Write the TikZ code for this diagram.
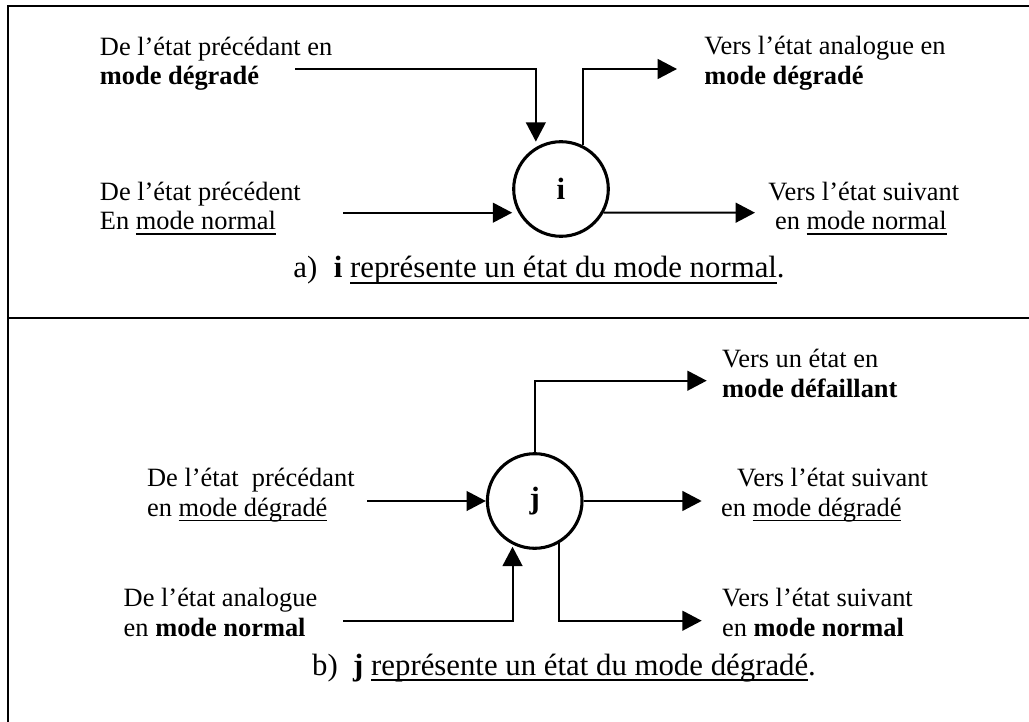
\documentclass[tikz,border=0pt]{standalone}
\usepackage{fontspec}
\setmainfont{Liberation Serif}
\usepackage{tikz}
\usetikzlibrary{arrows.meta, positioning, calc}

\newsavebox{\undlbox}
\newcommand{\undl}[1]{\sbox{\undlbox}{#1}\rlap{\rule[-0.18em]{\wd\undlbox}{0.05em}}\usebox{\undlbox}}

\begin{document}
\begin{tikzpicture}[
    x=0.4545pt, y=-0.4545pt,
    state/.style={circle, draw, line width=1.4pt, minimum size=43pt, inner sep=0pt, font=\fontsize{14pt}{16pt}\selectfont\bfseries},
    lbl/.style={anchor=base west, align=left, inner sep=0pt, font=\fontsize{12pt}{13.6pt}\selectfont},
    caption/.style={anchor=base west, inner sep=0pt, font=\fontsize{14pt}{16pt}\selectfont},
    line/.style={draw, line width=0.9pt, -{Triangle[length=8.8pt, width=9pt]}},
    frame/.style={draw, line width=0.9pt}
]
\clip (0,0) rectangle (1029,722);

% Frame
\path[frame] (1040,6) -- (8,6) -- (8,730);
\path[frame] (8,318) -- (1040,318);

% a) mode normal
\node[state] (i) at (561,189) {i};
\node[lbl] (predeg) at (99.5,85) {De l’état précédant en\\\textbf{mode dégradé}};
\node[lbl] (prenorm) at (99.5,230) {De l’état précédent\\En \undl{mode normal}};
\node[lbl] (anadeg) at (704,84.5) {Vers l’état analogue en\\\textbf{mode dégradé}};
\node[lbl] (suivnorm) at (768,230) {Vers l’état suivant\\\hspace*{3pt}en \undl{mode normal}};
\node[caption] (capa) at (293,278) {a)\hspace{7.5pt}\textbf{i} \undl{représente un état du mode normal}.};

\coordinate (a1) at (295,69);
\coordinate (a2) at (677,69);
\coordinate (a3) at (343,212.7);
\coordinate (a4) at (755,212.7);

\path[line, shorten >=2.5pt] (a1) -| (i.121);
\path[line] (i.63) |- (a2);
\path[line] (a3) -- (a3 -| i.west);
\path[line] (i.-29) -- (a4);

% b) mode degrade
\node[state] (j) at (534.7,501) {j};
\node[lbl] (versdef) at (721.7,397) {Vers un état en\\\textbf{mode défaillant}};
\node[lbl] (precdeg) at (146.7,516.7) {De l’état\ \ précédant\\en \undl{mode dégradé}};
\node[lbl] (suivdeg) at (720.7,516.7) {\hspace*{7.3pt}Vers l’état suivant\\en \undl{mode dégradé}};
\node[lbl] (ananorm) at (123.3,636.7) {De l’état analogue\\en \textbf{mode normal}};
\node[lbl] (suivnorm2) at (721.7,636.7) {Vers l’état suivant\\en \textbf{mode normal}};
\node[caption] (capb) at (311.7,675) {b)\hspace{7pt}\textbf{j} \undl{représente un état du mode dégradé}.};

\coordinate (b1) at (706.7,380.7);
\coordinate (b2) at (367,501);
\coordinate (b3) at (701.7,501);
\coordinate (b4) at (343,620.7);
\coordinate (b5) at (701.7,620.7);

\path[line] (j.north) |- (b1);
\path[line] (b2) -- (j.west);
\path[line] (j.east) -- (b3);
\path[line, shorten >=1pt] (b4) -| (j.-117);
\path[line] (j.-60) |- (b5);

\end{tikzpicture}
\end{document}
